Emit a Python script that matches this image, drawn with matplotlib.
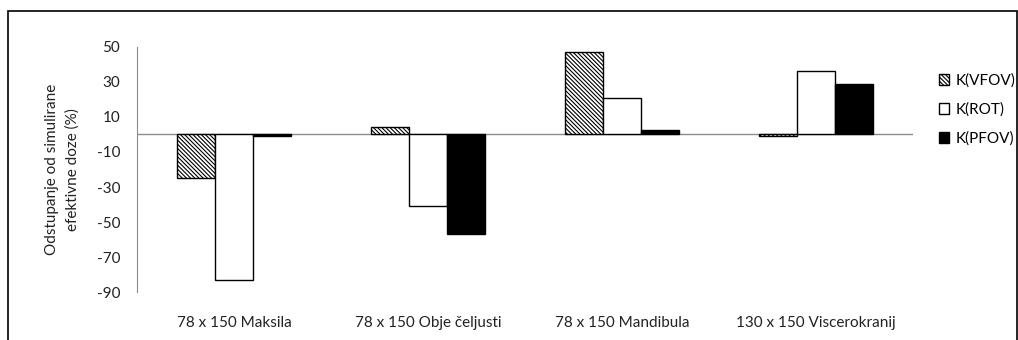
import numpy as np
import matplotlib
matplotlib.use("Agg")
import matplotlib.pyplot as plt
from matplotlib.patches import Rectangle

plt.rcParams['font.family'] = ['Lato', 'DejaVu Sans']
plt.rcParams['hatch.linewidth'] = 0.8
plt.rcParams['axes.unicode_minus'] = False

categories = ["78 x 150 Maksila", "78 x 150 Obje čeljusti", "78 x 150 Mandibula", "130 x 150 Viscerokranij"]
series_names = ["K(VFOV)", "K(ROT)", "K(PFOV)"]
vfov = [-25, 4.5, 47, -0.7]
rot = [-83, -41, 21, 36]
pfov = [-0.6, -57, 2.5, 29]

fig = plt.figure(figsize=(10.18, 3.4), dpi=100)
ax = fig.add_axes([0.1346, 0.141, 0.897 - 0.1346, 0.862 - 0.141])

# outer chart frame
fig.patches.append(Rectangle((8 / 1018, -0.1), 1009 / 1018, 1.1 - 11 / 340,
                             transform=fig.transFigure, fill=False,
                             edgecolor='black', linewidth=1.2))

x = np.arange(len(categories))
w = 0.196
styles = [dict(facecolor='white', hatch='\\' * 8),
          dict(facecolor='white'),
          dict(facecolor='black')]
for i, (vals, name, st) in enumerate(zip([vfov, rot, pfov], series_names, styles)):
    ax.bar(x + (i - 1) * w, vals, w, edgecolor='black', linewidth=1.0,
           label=name, **st)

ax.set_xlim(-0.5, len(categories) - 0.5)
ax.set_ylim(-90, 50)
ax.set_yticks(np.arange(-90, 51, 20))
ax.set_xticks(x)
ax.set_xticklabels(categories)
ax.axhline(0, color='#8c8c8c', linewidth=1.0, zorder=0)
ax.tick_params(axis='both', length=0, labelsize=11, colors='#222222')
ax.tick_params(axis='y', pad=12)
ax.tick_params(axis='x', pad=17)
for s in ['top', 'right', 'bottom']:
    ax.spines[s].set_visible(False)
ax.spines['left'].set_color('#8c8c8c')

ax.set_ylabel("Odstupanje od simulirane\nefektivne doze (%)", fontsize=11,
              color='#222222', labelpad=12, linespacing=1.6)

fig.legend(loc='upper left', bbox_to_anchor=(925 / 1018, 1 - 60 / 340),
           frameon=False, fontsize=11, handlelength=0.7, handleheight=0.7,
           handletextpad=0.4, labelspacing=0.95)

fig.savefig("out.png", dpi=100)
